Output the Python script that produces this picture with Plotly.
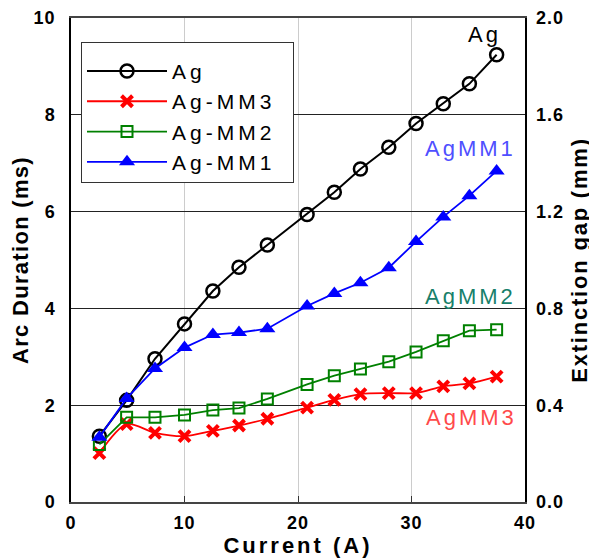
import plotly.graph_objects as go

current = [2.5, 4.9, 7.4, 10.0, 12.5, 14.8, 17.3, 20.8, 23.2, 25.5, 28.0, 30.4, 32.8, 35.1, 37.5]
ag =      [1.36, 2.10, 2.96, 3.68, 4.36, 4.85, 5.31, 5.94, 6.40, 6.88, 7.33, 7.82, 8.23, 8.64, 9.24]
ag_mm3 =  [1.01, 1.61, 1.43, 1.36, 1.47, 1.58, 1.72, 1.95, 2.11, 2.23, 2.25, 2.25, 2.39, 2.45, 2.59]
ag_mm2 =  [1.19, 1.75, 1.75, 1.80, 1.90, 1.94, 2.13, 2.43, 2.61, 2.75, 2.90, 3.10, 3.33, 3.54, 3.56]
ag_mm1 =  [1.34, 2.14, 2.76, 3.19, 3.46, 3.50, 3.58, 4.05, 4.31, 4.53, 4.84, 5.38, 5.89, 6.33, 6.84]

left_ticks = [0, 2, 4, 6, 8, 10]
left_labels = ["0", "2", "4", "6", "8", "10"]
right_ticks = [0.0, 0.4, 0.8, 1.2, 1.6, 2.0]
right_labels = ["0.0", "0.4", "0.8", "1.2", "1.6", "2.0"]
x_ticks = [0, 10, 20, 30, 40]
x_labels = ["0", "10", "20", "30", "40"]

# ratio between the left (ms) and right (mm) scales
GAP_PER_MS = 0.2

FONT = "Liberation Sans, Arial, sans-serif"

def sp(t, px=2):
    return f'<span style="letter-spacing:{px}px">{t}</span>'

def leg(t):
    return sp(t, 4) + "&nbsp;&nbsp;"

fig = go.Figure()
fig.add_trace(go.Scatter(
    x=current, y=ag, name=leg("Ag"), mode="lines+markers",
    line=dict(color="black", width=2),
    marker=dict(symbol="circle-open", size=13, color="black", line=dict(width=2.5))))
fig.add_trace(go.Scatter(
    x=current, y=ag_mm3, name=leg("Ag-MM3"), mode="lines+markers",
    line=dict(color="#ff0000", width=1.8, shape="spline", smoothing=0.8),
    marker=dict(symbol="x-thin-open", size=11, color="#ff0000", line=dict(width=4, color="#ff0000"))))
fig.add_trace(go.Scatter(
    x=current, y=ag_mm2, name=leg("Ag-MM2"), mode="lines+markers",
    line=dict(color="#008000", width=1.8),
    marker=dict(symbol="square-open", size=11, color="#008000", line=dict(width=2))))
fig.add_trace(go.Scatter(
    x=current, y=ag_mm1, name=leg("Ag-MM1"), mode="lines+markers",
    line=dict(color="#0000ff", width=1.8),
    marker=dict(symbol="triangle-up", size=14, color="#0000ff")))
# invisible companion trace so the right-hand (mm) axis is drawn
fig.add_trace(go.Scatter(
    x=current, y=[v * GAP_PER_MS for v in ag], yaxis="y2", mode="lines",
    opacity=0, showlegend=False, hoverinfo="skip", line=dict(color="rgba(0,0,0,0)")))

TOP = 18      # plot top in page pixels
BOTTOM = 502  # plot bottom in page pixels
annots = [
    ("Ag", "black", 503, 34),
    ("AgMM1", "#4f4fff", 518, 148),
    ("AgMM2", "#17806a", 518, 296),
    ("AgMM3", "#ff4a4a", 519, 417),
]
for text, col, px, py in annots:
    fig.add_annotation(
        text=sp(text, 3), xref="paper", yref="paper",
        x=(px - 71) / 454, y=1 - (py - TOP) / (BOTTOM - TOP),
        xanchor="right", yanchor="middle", showarrow=False,
        font=dict(family=FONT, size=22, color=col))

tickfont = dict(family=FONT, size=18, color="black", weight="bold")
titlefont = dict(family=FONT, size=22, color="black", weight="bold")

fig.update_layout(
    width=589, height=550,
    margin=dict(l=63, r=72, t=TOP - 8, b=56, autoexpand=False),
    paper_bgcolor="white", plot_bgcolor="white",
    font=dict(family=FONT, color="black"),
    showlegend=True,
    legend=dict(
        x=(81 - 71) / 454, y=1 - (42 - TOP) / (BOTTOM - TOP), xanchor="left", yanchor="top",
        bgcolor="white", bordercolor="#333", borderwidth=1,
        font=dict(family=FONT, size=21, color="black"),
        title=dict(text=" ", font=dict(size=6)),
        itemwidth=80, tracegroupgap=0),
    xaxis=dict(
        range=[0, 40], tickvals=x_ticks, ticktext=[sp(t, 1) for t in x_labels],
        ticks="inside", ticklen=6, tickcolor="#333", automargin=False,
        showline=True, linecolor="#444", linewidth=1.5, mirror=True,
        showgrid=True, gridcolor="#cccccc", gridwidth=1, zeroline=False,
        tickfont=tickfont, ticklabelstandoff=4, ticklabeloverflow="allow",
        title=dict(text=sp("Current (A)", 3), font=titlefont, standoff=4)),
    yaxis=dict(
        range=[0, 10], tickvals=left_ticks, ticktext=[sp(t, 1) for t in left_labels],
        ticks="", showline=True, automargin=False,
        linecolor="black", linewidth=1.5, mirror=True,
        showgrid=True, gridcolor="#222", gridwidth=1, zeroline=False,
        tickfont=tickfont, ticklabelstandoff=10, ticklabeloverflow="allow",
        title=dict(text=sp("Arc Duration (ms)", 1.3), font=titlefont, standoff=2)),
    yaxis2=dict(
        range=[0, 2], tickvals=right_ticks, ticktext=[sp(t, 1) for t in right_labels],
        overlaying="y", side="right", anchor="x", showgrid=False, zeroline=False,
        showline=False, ticks="", automargin=False,
        tickfont=tickfont, ticklabelstandoff=10, ticklabeloverflow="allow",
        title=dict(text=sp("Extinction gap (mm)", 1.8), font=titlefont, standoff=8)),
)

fig.write_html("out.html")
